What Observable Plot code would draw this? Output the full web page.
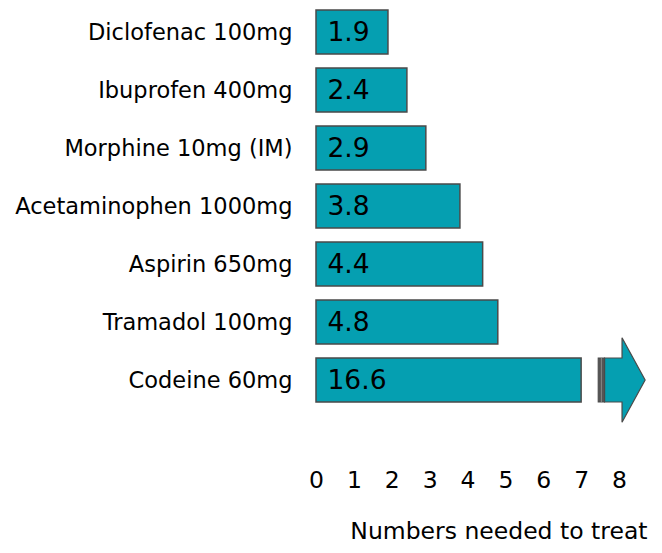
<!DOCTYPE html>
<html>
<head>
<meta charset="utf-8">
<script src="https://cdn.jsdelivr.net/npm/d3@7"></script>
<script src="https://cdn.jsdelivr.net/npm/@observablehq/plot@0.6"></script>
<style>
  html, body { margin: 0; padding: 0; background: #fff; }
  #chart svg { display: block; }
</style>
</head>
<body>
<div id="chart"></div>
<script>
// ---- data ----
const drugs = ["Diclofenac 100mg", "Ibuprofen 400mg", "Morphine 10mg (IM)", "Acetaminophen 1000mg", "Aspirin 650mg", "Tramadol 100mg", "Codeine 60mg"];
const nnt = [1.9, 2.4, 2.9, 3.8, 4.4, 4.8, 16.6];
const xTicks = [0, 1, 2, 3, 4, 5, 6, 7, 8];
const axisLabel = "Numbers needed to treat";
const barCap = 7; // bars longer than this are broken and continued with an arrow

const data = drugs.map((d, i) => ({drug: d, value: nnt[i]}));
const FILL = "#059fb1";
const STROKE = "#4a4a4a";
const FONT = "DejaVu Sans";

const plot = Plot.plot({
  width: 662,
  height: 553,
  marginLeft: 316,
  marginRight: 43,
  marginTop: 9,
  marginBottom: 151,
  style: {fontFamily: FONT, color: "#000", background: "#fff"},
  x: {domain: [0, 8], axis: null},
  y: {domain: drugs, paddingInner: 0.25, paddingOuter: 0, axis: null},
  marks: [
    Plot.axisY({tickSize: 0, tickPadding: 24, fontSize: 22.5, label: null}),
    Plot.axisX({ticks: xTicks, tickFormat: d3.format("d"), tickSize: 0, tickPadding: 69, fontSize: 23.5, label: null}),
    Plot.barX(data, {y: "drug", x1: 0, x2: d => Math.min(d.value, barCap), fill: FILL, stroke: STROKE, strokeWidth: 1.5}),
    Plot.text(data, {y: "drug", x: 0, text: d => String(d.value), textAnchor: "start", dx: 11, fontSize: 26.5, fill: "#000"}),
    Plot.text([axisLabel], {frameAnchor: "bottom-right", dx: 28, dy: 136, textAnchor: "end", fontSize: 23.5, fill: "#000"})
  ]
});

document.getElementById("chart").appendChild(plot);

// ---- arrow continuing the broken (clipped) bar, positioned through the plot's scales ----
const xs = plot.scale("x"), ys = plot.scale("y");
const svg = d3.select(plot);
data.filter(d => d.value > barCap).forEach(d => {
  const top = ys.apply(d.drug), bw = ys.bandwidth, bot = top + bw, mid = top + bw / 2;
  const xBreak0 = xs.apply(7.45), xBreak1 = xs.apply(7.62);
  const xBody1 = xs.apply(8.08), xTip = xs.apply(8.69);
  const ext = bw * 0.46;
  const g = svg.append("g");
  g.append("rect").attr("x", xBreak0).attr("y", top).attr("width", xBreak1 - xBreak0).attr("height", bw)
    .attr("fill", "#555").attr("stroke", STROKE).attr("stroke-width", 1);
  g.append("line").attr("x1", (xBreak0 + xBreak1) / 2).attr("x2", (xBreak0 + xBreak1) / 2)
    .attr("y1", top).attr("y2", bot).attr("stroke", "#888").attr("stroke-width", 1);
  const pts = [
    [xBreak1, top], [xBody1, top], [xBody1, top - ext], [xTip, mid],
    [xBody1, bot + ext], [xBody1, bot], [xBreak1, bot]
  ];
  g.append("polygon").attr("points", pts.map(p => p.join(",")).join(" "))
    .attr("fill", FILL).attr("stroke", STROKE).attr("stroke-width", 1.2);
});
</script>
</body>
</html>
